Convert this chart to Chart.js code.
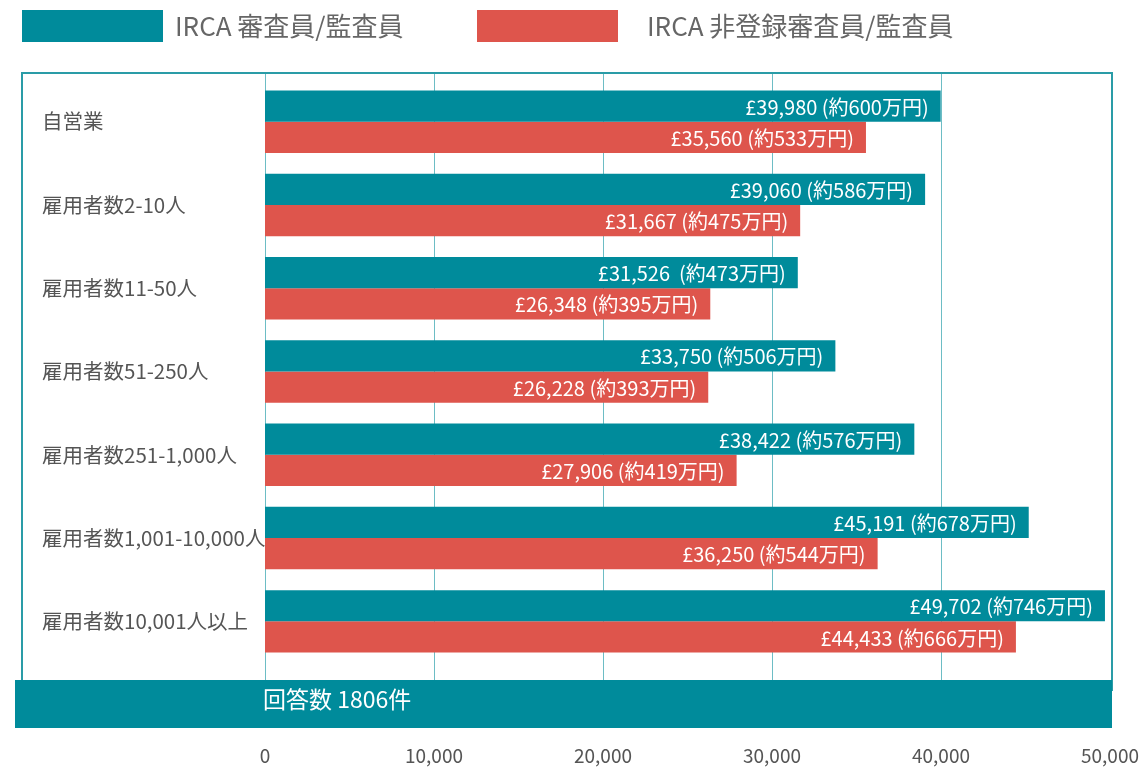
<!DOCTYPE html>
<html>
<head>
<meta charset="utf-8">
<script src="https://cdn.jsdelivr.net/npm/chart.js@4.4.0/dist/chart.umd.min.js"></script>
<style>
    html, body { margin: 0; padding: 0; background: #fff; }
    #wrap { position: relative; width: 1141px; height: 769px; }
</style>
</head>
<body>
<div id="wrap"><canvas id="salaryChart"></canvas></div>
<script>
// categories (company size)
const categories = ['自営業', '雇用者数2-10人', '雇用者数11-50人', '雇用者数51-250人',
    '雇用者数251-1,000人', '雇用者数1,001-10,000人', '雇用者数10,001人以上'];
const seriesNames = ['IRCA 審査員/監査員', 'IRCA 非登録審査員/監査員'];

// salaries in GBP
const registeredValues = [39980, 39060, 31526, 33750, 38422, 45191, 49702];
const unregisteredValues = [35560, 31667, 26348, 26228, 27906, 36250, 44433];

// text shown inside the bars
const registeredLabels = ['£39,980 (約600万円)', '£39,060 (約586万円)', '£31,526  (約473万円)',
    '£33,750 (約506万円)', '£38,422 (約576万円)', '£45,191 (約678万円)', '£49,702 (約746万円)'];
const unregisteredLabels = ['£35,560 (約533万円)', '£31,667 (約475万円)', '£26,348 (約395万円)',
    '£26,228 (約393万円)', '£27,906 (約419万円)', '£36,250 (約544万円)', '£44,433 (約666万円)'];

const xTicks = [0, 10000, 20000, 30000, 40000, 50000];
const responseNote = '回答数 1806件';

const TEAL = '#008b9b';
const RED = '#de554c';
const FONT = '"Noto Sans CJK JP", "Noto Sans", sans-serif';

// grid, frame, value labels, bottom band and legend
const decorations = {
    id: 'decorations',
    beforeDatasetsDraw(chart) {
        const ctx = chart.ctx;
        const x = chart.scales.x;
        ctx.save();
        ctx.strokeStyle = '#6dbdc5';
        ctx.lineWidth = 1;
        xTicks.slice(0, -1).forEach(v => {
            const px = Math.round(x.getPixelForValue(v)) + 0.5;
            ctx.beginPath();
            ctx.moveTo(px, 72);
            ctx.lineTo(px, 680);
            ctx.stroke();
        });
        ctx.strokeStyle = '#2a9ca7';
        ctx.lineWidth = 2;
        ctx.strokeRect(22, 73, 1090, 617);
        ctx.restore();
    },
    afterDatasetsDraw(chart) {
        const ctx = chart.ctx;
        const texts = [registeredLabels, unregisteredLabels];
        ctx.save();
        ctx.font = '20px ' + FONT;
        ctx.fillStyle = '#fff';
        ctx.textAlign = 'right';
        ctx.textBaseline = 'middle';
        chart.data.datasets.forEach((ds, i) => {
            chart.getDatasetMeta(i).data.forEach((bar, j) => {
                ctx.fillText(texts[i][j], bar.x - 12, bar.y + 1);
            });
        });
        ctx.restore();
    },
    afterDraw(chart) {
        const ctx = chart.ctx;
        ctx.save();
        // response count band
        ctx.fillStyle = TEAL;
        ctx.fillRect(15, 680, 1097, 48);
        ctx.fillStyle = '#fff';
        ctx.font = '23px ' + FONT;
        ctx.textBaseline = 'middle';
        ctx.fillText(responseNote, 263, 699);

        // legend
        const items = [{ box: 22, text: 175 }, { box: 477, text: 647 }];
        ctx.font = '26px ' + FONT;
        chart.data.datasets.forEach((ds, i) => {
            ctx.fillStyle = ds.backgroundColor;
            ctx.fillRect(items[i].box, 10, 141, 32);
            ctx.fillStyle = '#666';
            ctx.fillText(ds.label, items[i].text, 26);
        });
        ctx.restore();
    }
};

const ctx = document.getElementById('salaryChart').getContext('2d');
new Chart(ctx, {
    type: 'bar',
    data: {
        labels: categories,
        datasets: [{
            label: seriesNames[0],
            data: registeredValues,
            backgroundColor: TEAL,
            categoryPercentage: 0.75,
            barPercentage: 1.0
        }, {
            label: seriesNames[1],
            data: unregisteredValues,
            backgroundColor: RED,
            categoryPercentage: 0.75,
            barPercentage: 1.0
        }]
    },
    options: {
        indexAxis: 'y',
        responsive: true,
        maintainAspectRatio: false,
        animation: false,
        layout: {
            padding: { left: 42, right: 31, top: 80, bottom: 0 }
        },
        plugins: {
            legend: { display: false },
            tooltip: { enabled: false }
        },
        scales: {
            x: {
                min: 0,
                max: 50000,
                afterBuildTicks(scale) {
                    scale.ticks = xTicks.map(v => ({ value: v }));
                },
                afterFit(scale) {
                    // big tick padding is only meant to push labels down
                    scale.height = 106;
                    scale.paddingLeft = 0;
                    scale.paddingRight = 0;
                },
                grid: { display: false, drawTicks: false },
                border: { display: false },
                ticks: {
                    padding: 81,
                    color: '#555',
                    font: { size: 19, family: FONT },
                    callback: v => v.toLocaleString('en-US')
                }
            },
            y: {
                afterFit(scale) {
                    scale.width = 223;
                },
                grid: { display: false },
                border: { display: false },
                ticks: {
                    crossAlign: 'far',
                    color: '#555',
                    font: { size: 20.5, family: FONT }
                }
            }
        }
    },
    plugins: [decorations]
});
</script>
</body>
</html>
